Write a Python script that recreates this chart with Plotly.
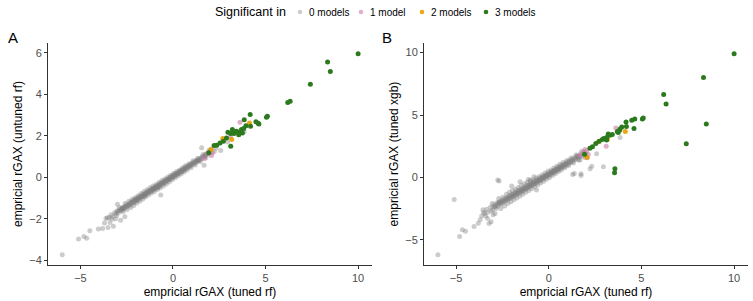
import plotly.graph_objects as go

W, H = 753, 301

# ---------------- data ----------------
categories = ["0 models", "1 model", "2 models", "3 models"]
colors = ["#7F7F7F", "#CC79A7", "#E69F00", "#2D7A1E"]
opacities = [0.4, 0.6, 0.9, 1.0]

# x = empricial rGAX (tuned rf); yA = untuned rf; yB = tuned xgb
gray_x = [-5.98, -5.1, -4.81, -4.66, -4.49, -4.03, -3.8, -3.51, -3.4, -3.22, -3.46, -3.11, -2.83, -3.1,
          -2.72, -2.68, -2.75, -2.0, -1.1, -0.99, -0.66,
          -3.62, -3.35, -3.28, -3.15, -3.02, -2.95, -2.88, -2.8, -2.74, -2.66, -2.6, -2.55, -2.5, -2.45,
          -2.4, -2.36, -2.31, -2.27, -2.22, -2.18, -2.14, -2.1, -2.06, -2.02, -1.98, -1.94, -1.9, -1.86,
          -1.82, -1.78, -1.74, -1.7, -1.66, -1.62, -1.58, -1.54, -1.5, -1.46, -1.42, -1.38, -1.34, -1.3,
          -1.26, -1.22, -1.18, -1.14, -1.1, -1.06, -1.02, -0.98, -0.94, -0.9, -0.86, -0.82, -0.78, -0.74,
          -0.7, -0.66, -0.62, -0.58, -0.54, -0.5, -0.46, -0.42, -0.38, -0.34, -0.3, -0.26, -0.22, -0.18,
          -0.14, -0.1, -0.06, -0.02, 0.02, 0.06, 0.1, 0.14, 0.18, 0.22, 0.26, 0.3, 0.34, 0.38, 0.42, 0.46,
          0.5, 0.54, 0.58, 0.62, 0.66, 0.7, 0.75, 0.8, 0.85, 0.9, 0.95, 1.0, 1.06, 1.12, 1.18, 1.24, 1.3,
          1.37, 1.44, 1.52, 1.6, 1.7, 1.8, 1.9, 2.0,
          2.23, 2.32, 2.58, 2.95, 3.85, 1.68, 1.29, 1.38, 1.74, 1.74, 1.55,
          -3.7, -3.55, -3.3, -3.05, -2.9, -2.7, -2.58, -2.48, -2.38, -2.28, -2.2, -2.12, -2.04, -1.96,
          -1.88, -1.8, -1.72, -1.64, -1.56, -1.48, -1.4, -1.32, -1.24, -1.16, -1.08, -1.0, -0.92, -0.84,
          -0.76, -0.68, -0.6, -0.52, -0.44, -0.36, -0.28, -0.2, -0.12, -0.04, 0.04, 0.12, 0.2, 0.28, 0.36,
          0.44, 0.52, 0.6, 0.68, 0.77, 0.87, 0.97, 1.08, 1.2, 1.33, 1.47, 1.62, 1.78, 1.95, -2.6, -3.0,
          -1.55, -0.8,
          -3.0, -2.88, -2.76, -2.64, -2.52, -2.4, -2.28, -2.16, -2.04, -1.92, -1.8, -1.68, -1.56, -1.44,
          -1.32, -1.2, -1.08, -0.96, -0.84, -0.72, -0.6, -0.48, -0.36, -0.24, -0.12, 0.0, 0.12, 0.24,
          0.36, 0.48, 0.6, 0.72, 0.84, 0.96, 1.08, 1.2, 1.32, 1.44, 1.56, 1.68]
gray_yA = [-3.73, -2.97, -2.85, -2.93, -2.57, -2.49, -2.46, -2.41, -2.17, -2.36, -1.93, -2.01, -2.06, -1.77,
           -1.5, -1.45, -1.55, -1.1, -0.6, -0.55, -0.85,
           -1.98, -1.8, -1.9, -1.7, -1.62, -1.72, -1.55, -1.6, -1.45, -1.52, -1.38, -1.45, -1.33, -1.4,
           -1.28, -1.35, -1.22, -1.3, -1.17, -1.24, -1.12, -1.2, -1.08, -1.15, -1.03, -1.1, -0.98, -1.06,
           -0.94, -1.01, -0.9, -0.96, -0.85, -0.92, -0.8, -0.87, -0.76, -0.83, -0.72, -0.78, -0.67, -0.73,
           -0.62, -0.69, -0.58, -0.64, -0.54, -0.59, -0.49, -0.55, -0.45, -0.5, -0.4, -0.46, -0.35, -0.41,
           -0.31, -0.37, -0.26, -0.32, -0.22, -0.28, -0.17, -0.23, -0.13, -0.18, -0.08, -0.14, -0.04, -0.09,
           0.01, -0.05, 0.06, 0.0, 0.1, 0.04, 0.15, 0.09, 0.19, 0.14, 0.24, 0.18, 0.28, 0.23, 0.33, 0.27,
           0.38, 0.32, 0.42, 0.36, 0.47, 0.41, 0.52, 0.47, 0.58, 0.52, 0.63, 0.58, 0.7, 0.64, 0.77, 0.71, 0.84,
           0.79, 0.92, 0.87, 1.01, 0.98, 1.12, 1.1, 1.22,
           1.25, 1.4, 1.29, 1.7, 2.2, 0.58, 0.8, 0.82, 1.05, 1.1, 1.42,
           -2.2, -1.95, -2.0, -1.85, -1.45, -1.65, -1.25, -1.55, -1.15, -1.45, -1.05, -1.35, -0.98, -1.25,
           -0.88, -1.15, -0.78, -1.05, -0.68, -0.95, -0.6, -0.85, -0.5, -0.75, -0.42, -0.68, -0.34, -0.58,
           -0.25, -0.5, -0.15, -0.42, -0.08, -0.32, 0.02, -0.22, 0.1, -0.12, 0.2, -0.02, 0.28, 0.08, 0.36,
           0.16, 0.46, 0.26, 0.56, 0.36, 0.66, 0.46, 0.8, 0.6, 0.92, 0.75, 1.1, 0.95, 1.3, -1.9, -1.3,
           -0.9, -0.5,
           -1.64, -1.6, -1.5, -1.46, -1.37, -1.33, -1.23, -1.19, -1.09, -1.05, -0.96, -0.92, -0.82, -0.78,
           -0.68, -0.64, -0.55, -0.51, -0.41, -0.37, -0.27, -0.23, -0.14, -0.1, 0.0, 0.04, 0.14, 0.18,
           0.28, 0.31, 0.41, 0.45, 0.55, 0.59, 0.69, 0.72, 0.82, 0.86, 0.96, 1.0]
gray_yB = [-6.2, -1.78, -4.73, -4.2, -4.31, -3.93, -3.67, -2.82, -3.1, -3.69, -2.9, -3.56, -2.5, -2.7,
           -2.02, -0.29, -0.21, -0.69, -0.16, -0.21, -1.0,
           -3.1, -2.55, -2.8, -2.4, -2.6, -2.2, -2.35, -2.05, -2.3, -1.95, -2.15, -1.85, -2.05, -1.8,
           -1.95, -1.7, -1.88, -1.62, -1.8, -1.55, -1.72, -1.48, -1.66, -1.4, -1.6, -1.35, -1.52, -1.28,
           -1.45, -1.2, -1.38, -1.12, -1.3, -1.05, -1.25, -0.98, -1.18, -0.92, -1.1, -0.85, -1.02, -0.78,
           -0.95, -0.7, -0.88, -0.62, -0.8, -0.58, -0.74, -0.52, -0.66, -0.44, -0.6, -0.38, -0.52, -0.3,
           -0.46, -0.24, -0.38, -0.18, -0.3, -0.1, -0.24, -0.04, -0.16, 0.04, -0.1, 0.1, -0.02, 0.17,
           0.05, 0.24, 0.12, 0.31, 0.19, 0.38, 0.26, 0.45, 0.33, 0.52, 0.4, 0.59, 0.47, 0.66, 0.54, 0.73,
           0.61, 0.81, 0.68, 0.88, 0.75, 0.95, 0.83, 1.05, 0.9, 1.14, 0.99, 1.24, 1.08, 1.35, 1.2, 1.46, 1.3,
           1.58, 1.42, 1.72, 1.56, 1.88, 1.7, 2.05, 1.9,
           0.69, 0.9, 1.9, 0.85, 3.2, 1.4, 0.24, 0.32, 0.29, 0.16, 1.7,
           -3.4, -2.6, -3.3, -2.1, -2.9, -1.7, -2.5, -1.6, -2.3, -1.35, -2.1, -1.2, -1.95, -1.05,
           -1.8, -0.95, -1.65, -0.8, -1.5, -0.65, -1.35, -0.5, -1.2, -0.4, -1.05, -0.3, -0.9, -0.2,
           -0.75, -0.05, -0.6, 0.05, -0.45, 0.2, -0.3, 0.35, -0.15, 0.5, 0.0, 0.6, 0.15, 0.75, 0.3,
           0.9, 0.45, 1.05, 0.6, 1.2, 0.78, 1.35, 0.95, 1.55, 1.15, 1.8, 1.4, 2.1, 1.6, -2.0, -3.0,
           -0.35, 0.05,
           -2.36, -2.31, -2.15, -2.1, -1.94, -1.89, -1.73, -1.68, -1.52, -1.47, -1.3, -1.26, -1.09, -1.05,
           -0.88, -0.84, -0.67, -0.62, -0.46, -0.41, -0.25, -0.2, -0.04, 0.01, 0.17, 0.22, 0.39, 0.43,
           0.6, 0.64, 0.81, 0.85, 1.02, 1.06, 1.23, 1.28, 1.44, 1.49, 1.65, 1.7]

pink_x = [3.62, 3.1, 2.04, 1.96, 2.13, 1.68, 2.08, 1.85]
pink_yA = [2.65, 1.95, 1.34, 1.2, 1.18, 0.9, 1.05, 1.15]
pink_yB = [3.95, 2.5, 2.1, 2.23, 1.83, 1.75, 1.57, 1.95]

orange_x = [4.13, 2.69, 3.17, 2.06]
orange_yA = [2.62, 1.87, 1.82, 1.34]
orange_yB = [3.67, 2.85, 3.05, 1.62]

green_x = [10.0, 8.35, 8.5, 7.42, 6.2, 6.33, 5.1, 5.05, 4.64, 4.48, 4.6, 4.17, 4.19, 3.85, 3.94,
           3.82, 3.7, 3.57, 3.75, 3.43, 3.3, 3.12, 3.21, 2.97, 2.89, 2.72, 2.54, 2.36, 2.22, 3.55,
           3.12, 1.93]
green_yA = [5.95, 5.55, 5.1, 4.48, 3.6, 3.66, 2.94, 2.9, 2.57, 2.68, 2.6, 3.03, 2.46, 2.78, 2.49,
            2.35, 2.3, 2.17, 2.14, 2.22, 2.11, 2.11, 2.3, 2.17, 1.9, 1.74, 1.66, 1.55, 1.53, 2.05,
            1.5, 1.18]
green_yB = [9.9, 8.0, 4.28, 2.7, 6.65, 5.88, 4.76, 4.68, 4.68, 4.57, 3.91, 4.44, 4.07, 3.88, 4.04,
            3.77, 3.67, 0.69, 3.6, 3.43, 3.37, 3.2, 3.48, 3.11, 3.03, 2.9, 2.71, 2.45, 2.34, 0.37,
            3.0, 1.86]

x_ticks = [-5, 0, 5, 10]
yA_ticks = [-4, -2, 0, 2, 4, 6]
yB_ticks = [-5, 0, 5, 10]

x_title = "empricial rGAX (tuned rf)"
yA_title = "empricial rGAX (untuned rf)"
yB_title = "empricial rGAX (tuned xgb)"
legend_title = "Significant in"

groups = [
    (gray_x, gray_yA, gray_yB),
    (pink_x, pink_yA, pink_yB),
    (orange_x, orange_yA, orange_yB),
    (green_x, green_yA, green_yB),
]

# ---------------- figure ----------------
fig = go.Figure()
for (gx, gya, gyb), name, col, op in zip(groups, categories, colors, opacities):
    for ya, xa, yax in ((gya, "x", "y"), (gyb, "x2", "y2")):
        fig.add_trace(go.Scatter(
            x=gx, y=ya, mode="markers", name=name, showlegend=False,
            xaxis=xa, yaxis=yax,
            marker=dict(size=5, color=col, opacity=op, line=dict(width=0)),
        ))

def px_x(p):
    return p / W

def px_y(p):
    return 1 - p / H

top, bottom = 43, 265
font_base = "Liberation Sans, Arial, sans-serif"
axis_common = dict(
    showgrid=False, zeroline=False, showline=True, linecolor="#333333", linewidth=1,
    ticks="outside", ticklen=3, tickwidth=1, tickcolor="#333333",
    tickfont=dict(family=font_base, size=11, color="#4D4D4D"),
    automargin=False, mirror=False,
)
title_font = dict(family=font_base, size=12, color="#000000")

fig.update_layout(
    width=W, height=H,
    margin=dict(l=0, r=0, t=0, b=0),
    paper_bgcolor="white", plot_bgcolor="white",
    showlegend=False,
    xaxis=dict(domain=[px_x(48), px_x(372)], range=[-6.75, 10.75], tickvals=x_ticks,
               title=dict(text=x_title, font=title_font, standoff=4), anchor="y", **axis_common),
    yaxis=dict(domain=[px_y(bottom), px_y(top)], range=[-4.22, 6.47], tickvals=yA_ticks,
               title=dict(text=yA_title, font=title_font, standoff=4), anchor="x", **axis_common),
    xaxis2=dict(domain=[px_x(424), px_x(748)], range=[-6.73, 10.75], tickvals=x_ticks,
                title=dict(text=x_title, font=title_font, standoff=4), anchor="y2", **axis_common),
    yaxis2=dict(domain=[px_y(bottom), px_y(top)], range=[-7.02, 10.77], tickvals=yB_ticks,
                title=dict(text=yB_title, font=title_font, standoff=4), anchor="x2", **axis_common),
)

annotations = [
    dict(text="A", x=px_x(6), y=px_y(37), xref="paper", yref="paper", showarrow=False,
         xanchor="left", yanchor="middle", font=dict(family=font_base, size=15, color="black")),
    dict(text="B", x=px_x(380), y=px_y(37), xref="paper", yref="paper", showarrow=False,
         xanchor="left", yanchor="middle", font=dict(family=font_base, size=15, color="black")),
    dict(text=legend_title, x=px_x(213), y=px_y(12), xref="paper", yref="paper", showarrow=False,
         xanchor="left", yanchor="middle", font=dict(family=font_base, size=12.5, color="black")),
]
shapes = []
legend_dot_px = [300, 361, 422, 486]
for cx, name, col, op in zip(legend_dot_px, categories, colors, opacities):
    r = 2.3
    shapes.append(dict(type="circle", xref="paper", yref="paper",
                       x0=px_x(cx - r), x1=px_x(cx + r), y0=px_y(12 + r), y1=px_y(12 - r),
                       fillcolor=col, opacity=op, line=dict(width=0)))
    annotations.append(dict(text=name, x=px_x(cx + 7), y=px_y(12), xref="paper", yref="paper",
                            showarrow=False, xanchor="left", yanchor="middle",
                            font=dict(family=font_base, size=10, color="black")))
fig.update_layout(annotations=annotations, shapes=shapes)

fig.write_html("out.html", config={"displayModeBar": False},
               post_script="document.body.style.margin='0';document.body.style.overflow='hidden';")
